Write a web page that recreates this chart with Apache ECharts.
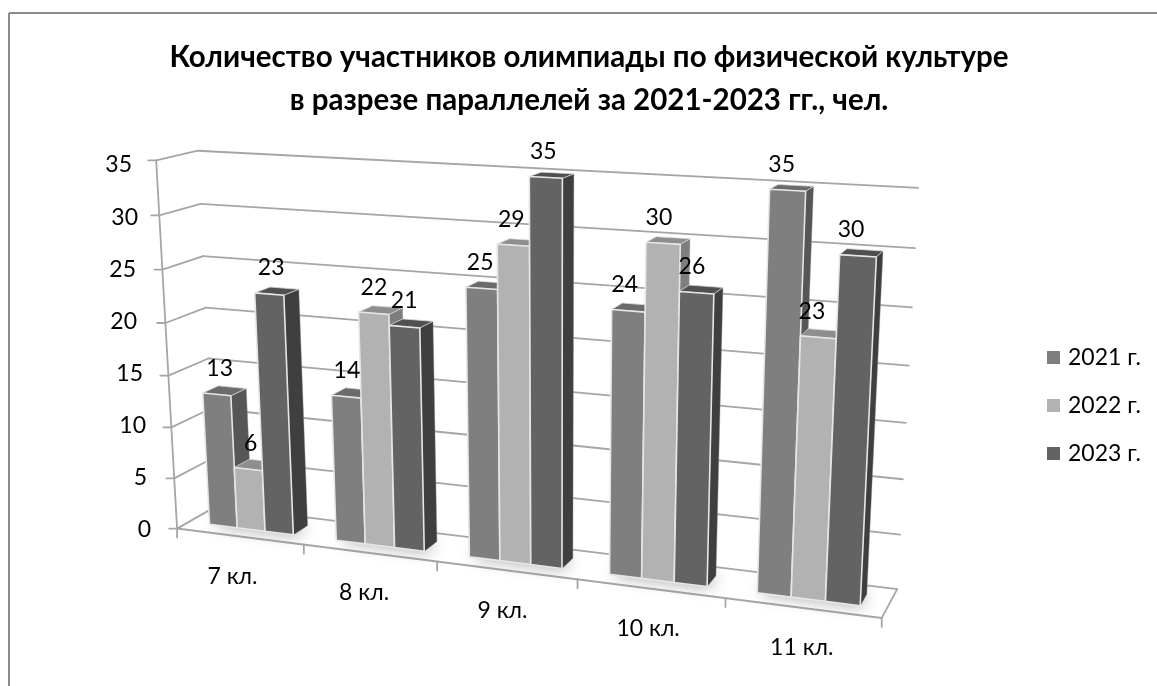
<!DOCTYPE html>
<html><head><meta charset="utf-8">
<style>html,body{margin:0;padding:0;background:#fff}#c{width:1157px;height:686px}</style>
<script src="https://cdn.jsdelivr.net/npm/echarts@6/dist/echarts.min.js"></script>
</head><body><div id="c"></div>
<script>
const categories = ['7 кл.', '8 кл.', '9 кл.', '10 кл.', '11 кл.'];
const seriesNames = ['2021 г.', '2022 г.', '2023 г.'];
const values2021 = [13, 14, 25, 24, 35];
const values2022 = [6, 22, 29, 30, 23];
const values2023 = [23, 21, 35, 26, 30];
const yTicks = [0, 5, 10, 15, 20, 25, 30, 35];
const allValues = [values2021, values2022, values2023];

const FONT = 'Lato, Carlito, "Open Sans", sans-serif';
const frontColors = ['#7f7f7f', '#b2b2b2', '#636363'];
const sideColors = ['#565656', '#7e7e7e', '#3f3f3f'];
const topColors = ['#6b6b6b', '#8e8e8e', '#505050'];
const LINE = '#a6a6a6';

// camera calibration: where the unit box's corners land on the page
const calib = [
  [0,0,0,177,527],[0,1,0,156,161],[0,0,1,216,508],[0,1,1,198,150],
  [1,0,0,882,619],[1,0,1,897,588],[1,1,1,918,188]
];
function solveCamera(pts){
  const rows=[],rhs=[];
  pts.forEach(([x,y,z,sx,sy])=>{
    rows.push([x,y,z,1,0,0,0,0,-sx*x,-sx*y,-sx*z]);rhs.push(sx);
    rows.push([0,0,0,0,x,y,z,1,-sy*x,-sy*y,-sy*z]);rhs.push(sy);
  });
  const n=11,M=[];
  for(let i=0;i<n;i++){M[i]=new Array(n+1).fill(0);
    for(let j=0;j<n;j++)rows.forEach(r=>M[i][j]+=r[i]*r[j]);
    rows.forEach((r,k)=>M[i][n]+=r[i]*rhs[k]);}
  for(let c=0;c<n;c++){let p=c;for(let r=c+1;r<n;r++)if(Math.abs(M[r][c])>Math.abs(M[p][c]))p=r;
    [M[c],M[p]]=[M[p],M[c]];
    for(let r=0;r<n;r++){if(r===c)continue;const f=M[r][c]/M[c][c];for(let j=c;j<=n;j++)M[r][j]-=f*M[c][j];}}
  return M.map((r,i)=>r[n]/r[i]);
}
const P = solveCamera(calib);
function project(u,v,z){
  const w=P[8]*u+P[9]*v+P[10]*z+1;
  return [(P[0]*u+P[1]*v+P[2]*z+P[3])/w,(P[4]*u+P[5]*v+P[6]*z+P[7])/w];
}
const Z0=0.3, Z1=0.7, GAP=0.75, SLOTS=4.5;

function toUnit(params,api,cat,val,slot){
  const cs=params.coordSys, c=api.coord([cat,val]), band=api.size([1,0])[0];
  return {u:(c[0]-band/2+band*(GAP+slot)/SLOTS-cs.x)/cs.width,
          v:(cs.y+cs.height-c[1])/cs.height};
}
function poly(points,fill,stroke,lw,extra){
  return {type:'polygon',shape:{points},style:Object.assign({fill,stroke:stroke||null,lineWidth:lw||0,lineJoin:'round'},extra||{})};
}
function line(a,b,w){
  return {type:'line',shape:{x1:a[0],y1:a[1],x2:b[0],y2:b[1]},style:{stroke:LINE,lineWidth:w||1.8,lineCap:'round'}};
}

function barSeries(si){
  return {
    type:'custom',name:seriesNames[si],z:3,silent:true,
    itemStyle:{color:frontColors[si]},
    data:allValues[si].map((v,i)=>[i,v]),
    encode:{x:0,y:1},
    renderItem(params,api){
      const cat=api.value(0),val=api.value(1);
      const a=toUnit(params,api,cat,val,si), b=toUnit(params,api,cat,val,si+1);
      const u0=a.u,u1=b.u,v=a.v;
      return {type:'group',children:[
        poly([project(u1,0,Z0),project(u1,v,Z0),project(u1,v,Z1),project(u1,0,Z1)],sideColors[si],'#8a8a8a',0.4),
        poly([project(u0,v,Z0),project(u1,v,Z0),project(u1,v,Z1),project(u0,v,Z1)],topColors[si],'#d8d8d8',0.8),
        poly([project(u0,0,Z0),project(u1,0,Z0),project(u1,v,Z0),project(u0,v,Z0)],frontColors[si],'#e6e6e6',1.6)
      ]};
    }
  };
}

const option = {
  animation:false,
  backgroundColor:'#fff',
  textStyle:{fontFamily:FONT},
  title:{
    text:'Количество участников олимпиады по физической культуре\nв разрезе параллелей за 2021-2023 гг., чел.',
    left:584,top:31,textAlign:'center',
    textStyle:{fontFamily:FONT,fontSize:29.5,fontWeight:'bold',color:'#000',lineHeight:43}
  },
  legend:{
    data:seriesNames,orient:'vertical',left:1042,top:341,icon:'rect',
    itemWidth:13,itemHeight:13,itemGap:25,
    textStyle:{fontFamily:FONT,fontSize:23,color:'#000',padding:[0,0,0,3]},
    selectedMode:false
  },
  grid:{left:152,top:165,width:730,height:365,containLabel:false},
  xAxis:{type:'category',data:categories,show:false},
  yAxis:{
    type:'value',min:0,max:35,interval:5,
    axisLine:{show:false},axisTick:{show:false},splitLine:{show:false},
    axisLabel:{
      margin:0,
      formatter:v=>'{t'+v+'|'+v+'}',
      rich:{
        t0:{fontFamily:FONT,fontSize:23,color:'#000',padding:[0,1,0,0]},
        t5:{fontFamily:FONT,fontSize:23,color:'#000',padding:[0,5,0,0]},
        t10:{fontFamily:FONT,fontSize:23,color:'#000',padding:[0,6,0,0]},
        t15:{fontFamily:FONT,fontSize:23,color:'#000',padding:[0,9,0,0]},
        t20:{fontFamily:FONT,fontSize:23,color:'#000',padding:[0,15,0,0]},
        t25:{fontFamily:FONT,fontSize:23,color:'#000',padding:[0,16,0,0]},
        t30:{fontFamily:FONT,fontSize:23,color:'#000',padding:[0,14,0,0]},
        t35:{fontFamily:FONT,fontSize:23,color:'#000',padding:[0,20,0,0]}
      }
    }
  },
  graphic:[
    {type:'line',z:0,shape:{x1:9,y1:13,x2:1157,y2:13},style:{stroke:'#8c8c8c',lineWidth:2}},
    {type:'line',z:0,shape:{x1:9,y1:13,x2:9,y2:686},style:{stroke:'#8c8c8c',lineWidth:2}}
  ],
  series:[
    { // walls: one gridline per value tick, plus its tick mark
      type:'custom',name:'grid',z:1,silent:true,
      data:yTicks.map(t=>[0,t]),encode:{x:0,y:1},
      renderItem(params,api){
        const cs=params.coordSys,c=api.coord([0,api.value(1)]);
        const v=(cs.y+cs.height-c[1])/cs.height;
        const f=project(0,v,0),b=project(0,v,1),r=project(1,v,1);
        return {type:'group',children:[
          line(f,b),line(b,r),line(f,[f[0]-8,f[1]])
        ]};
      }
    },
    { // floor: front edge, right edge, left axis, category ticks
      type:'custom',name:'floor',z:1,silent:true,
      data:[[0,0]],encode:{x:0,y:1},
      renderItem(){
        const kids=[
          line(project(0,0,0),project(1,0,0),2),
          line(project(1,0,0),project(1,0,1)),
          line(project(0,0,0),project(0,1,0))
        ];
        for(let i=0;i<=categories.length;i++){
          const t=project(i/categories.length,0,0);
          kids.push(line(t,[t[0],t[1]+9]));
        }
        return {type:'group',children:kids};
      }
    },
    { // soft shadow on the floor
      type:'custom',name:'shadow',z:2,silent:true,
      data:categories.map((c,i)=>[i,0]),encode:{x:0,y:1},
      renderItem(params,api){
        const cat=api.value(0);
        const a=toUnit(params,api,cat,0,0.1),b=toUnit(params,api,cat,0,3);
        return poly([project(a.u,0,Z0+.06),project(b.u,0,Z0+.06),project(b.u,0,Z1-.06),project(a.u,0,Z1-.06)],
          '#777',null,0,{shadowBlur:16,shadowColor:'rgba(110,110,110,0.95)'});
      }
    },
    barSeries(0),barSeries(1),barSeries(2),
    { // value labels
      type:'custom',name:'labels',z:6,silent:true,
      data:allValues.flatMap((vals,si)=>vals.map((v,i)=>[i,v,si])),encode:{x:0,y:1},
      renderItem(params,api){
        const cat=api.value(0),val=api.value(1),si=api.value(2);
        const m=toUnit(params,api,cat,val,si+0.5);
        const p=project(m.u,m.v,Z0);
        return {type:'text',style:{text:String(val),x:p[0]+3.5-11*m.u,y:p[1]-26,align:'center',verticalAlign:'middle',
          fontFamily:FONT,fontSize:23,fill:'#000'}};
      }
    },
    { // category labels under the front edge
      type:'custom',name:'categories',z:6,silent:true,
      data:categories.map((c,i)=>[i,0]),encode:{x:0,y:1},
      renderItem(params,api){
        const cat=api.value(0);
        const m=toUnit(params,api,cat,0,1.5);
        const p=project(m.u,0,0);
        return {type:'text',style:{text:categories[cat],x:p[0]-8+8*m.u,y:p[1]+40,align:'center',verticalAlign:'middle',
          fontFamily:FONT,fontSize:23,fill:'#000'}};
      }
    }
  ]
};
const chart=echarts.init(document.getElementById('c'),null,{renderer:'canvas'});
chart.setOption(option);
</script></body></html>
